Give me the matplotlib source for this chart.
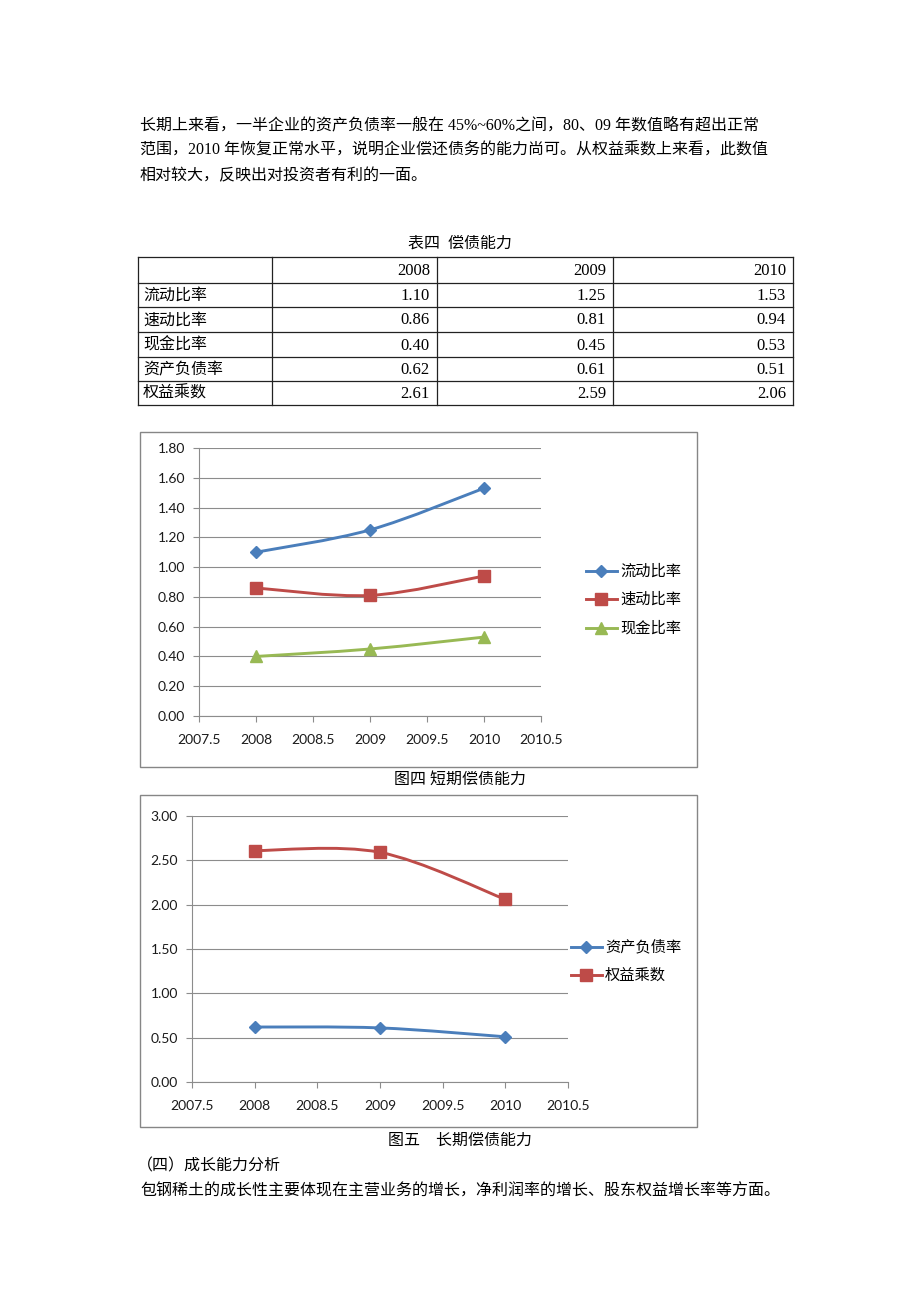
import numpy as np
import matplotlib
matplotlib.use('Agg')
import matplotlib.pyplot as plt
from matplotlib.path import Path
from matplotlib.patches import PathPatch, Rectangle

plt.rcParams['font.family'] = ['Liberation Serif', 'Noto Sans CJK SC']

# ---------------- data ----------------
years = [2008, 2009, 2010]
current_ratio = [1.10, 1.25, 1.53]
quick_ratio = [0.86, 0.81, 0.94]
cash_ratio = [0.40, 0.45, 0.53]
debt_ratio = [0.62, 0.61, 0.51]
equity_multiplier = [2.61, 2.59, 2.06]

row_names = ['流动比率', '速动比率', '现金比率', '资产负债率', '权益乘数']
row_values = [current_ratio, quick_ratio, cash_ratio, debt_ratio, equity_multiplier]
col_names = ['2008', '2009', '2010']

xticks = [2007.5, 2008, 2008.5, 2009, 2009.5, 2010, 2010.5]
xtick_labels = ['2007.5', '2008', '2008.5', '2009', '2009.5', '2010', '2010.5']
yticks1 = [0.0, 0.2, 0.4, 0.6, 0.8, 1.0, 1.2, 1.4, 1.6, 1.8]
yticks2 = [0.0, 0.5, 1.0, 1.5, 2.0, 2.5, 3.0]

para_lines = [
    '长期上来看，一半企业的资产负债率一般在 45%~60%之间，80、09 年数值略有超出正常',
    '范围，2010 年恢复正常水平，说明企业偿还债务的能力尚可。从权益乘数上来看，此数值',
    '相对较大，反映出对投资者有利的一面。',
]
table_title = '表四  偿债能力'
caption1 = '图四 短期偿债能力'
caption2 = '图五　长期偿债能力'
section_title = '（四）成长能力分析'
last_line = '包钢稀土的成长性主要体现在主营业务的增长，净利润率的增长、股东权益增长率等方面。'

BLUE = '#4A7EBB'
RED = '#BE4B48'
GREEN = '#98B954'
GRID = '#8c8c8c'
W, H = 920, 1302

fig = plt.figure(figsize=(W / 100, H / 100), dpi=100)
fig.patch.set_facecolor('white')

# overlay axes in pixel coordinates
oax = fig.add_axes([0, 0, 1, 1])
oax.set_xlim(0, W)
oax.set_ylim(H, 0)
oax.axis('off')

FS = 11.5
NFS = 12
# paragraph
for i, line in enumerate(para_lines):
    oax.text(140, 125 + i * 25.5, line, fontsize=FS, va='center', ha='left')

# table
oax.text(460, 244, table_title, fontsize=FS, va='center', ha='center')
vx = [138, 272, 437, 613, 793]
hy = [257, 283, 307, 332, 357, 381, 405]
for x in vx:
    oax.plot([x, x], [hy[0], hy[-1]], color='#222222', lw=0.9)
for y in hy:
    oax.plot([vx[0], vx[-1]], [y, y], color='#222222', lw=0.9)
for j, c in enumerate(col_names):
    oax.text(vx[j + 2] - 7, (hy[0] + hy[1]) / 2 + 1, c, fontsize=NFS, va='center', ha='right')
for i, (name, vals) in enumerate(zip(row_names, row_values)):
    yc = (hy[i + 1] + hy[i + 2]) / 2 + 1
    oax.text(143, yc, name, fontsize=FS, va='center', ha='left')
    for j, v in enumerate(vals):
        oax.text(vx[j + 2] - 7, yc, f'{v:.2f}', fontsize=NFS, va='center', ha='right')

# chart boxes
oax.add_patch(Rectangle((140, 432), 557, 335, fill=False, edgecolor='#868686', lw=1))
oax.add_patch(Rectangle((140, 795), 557, 332, fill=False, edgecolor='#868686', lw=1))

# captions
oax.text(460, 780, caption1, fontsize=FS, va='center', ha='center')
oax.text(460, 1141, caption2, fontsize=FS, va='center', ha='center')
oax.text(137, 1166, section_title, fontsize=FS, va='center', ha='left')
oax.text(140, 1192, last_line, fontsize=FS, va='center', ha='left')


def smooth_path(xs, ys):
    pts = list(zip(xs, ys))
    n = len(pts)
    verts = [pts[0]]
    codes = [Path.MOVETO]
    for i in range(n - 1):
        p0 = pts[i - 1] if i > 0 else pts[i]
        p1 = pts[i]
        p2 = pts[i + 1]
        p3 = pts[i + 2] if i + 2 < n else pts[i + 1]
        c1 = (p1[0] + (p2[0] - p0[0]) / 6, p1[1] + (p2[1] - p0[1]) / 6)
        c2 = (p2[0] - (p3[0] - p1[0]) / 6, p2[1] - (p3[1] - p1[1]) / 6)
        verts += [c1, c2, p2]
        codes += [Path.CURVE4] * 3
    return Path(verts, codes)


def px_axes(left, right, top, bottom):
    return fig.add_axes([left / W, 1 - bottom / H, (right - left) / W, (bottom - top) / H])


def setup(ax, yt):
    ax.set_facecolor('none')
    ax.set_xlim(2007.5, 2010.5)
    ax.set_ylim(0, yt[-1])
    ax.set_xticks(xticks)
    ax.set_xticklabels(xtick_labels)
    ax.set_yticks(yt)
    ax.set_yticklabels([f'{v:.2f}' for v in yt])
    ax.grid(axis='y', color=GRID, lw=0.8)
    ax.grid(axis='x', visible=False)
    ax.set_axisbelow(True)
    for s in ['top', 'right']:
        ax.spines[s].set_visible(False)
    for s in ['left', 'bottom']:
        ax.spines[s].set_color(GRID)
        ax.spines[s].set_linewidth(0.8)
    ax.tick_params(direction='out', length=4, color=GRID, width=0.8,
                   labelsize=10, labelcolor='#1a1a1a')
    ax.tick_params(axis='x', pad=9)
    ax.tick_params(axis='y', pad=6)
    for lab in ax.get_xticklabels() + ax.get_yticklabels():
        lab.set_fontfamily('Lato')


def series(ax, ys, color, marker, ms):
    ax.add_patch(PathPatch(smooth_path(years, ys), fill=False, edgecolor=color,
                           lw=2.1, capstyle='round', joinstyle='round', zorder=3))
    ax.plot(years, ys, linestyle='none', marker=marker, ms=ms, color=color,
            markeredgecolor=color, zorder=4, clip_on=False)


# chart 1
ax1 = px_axes(199, 541, 448, 716)
setup(ax1, yticks1)
series(ax1, current_ratio, BLUE, 'D', 6)
series(ax1, quick_ratio, RED, 's', 8.5)
series(ax1, cash_ratio, GREEN, '^', 8.5)

# chart 2
ax2 = px_axes(192, 568, 816, 1082)
setup(ax2, yticks2)
series(ax2, debt_ratio, BLUE, 'D', 6)
series(ax2, equity_multiplier, RED, 's', 8.5)

# legends (manual, in pixel coordinates)
def legend_entry(x0, x1, y, color, marker, ms, label):
    oax.plot([x0, x1], [y, y], color=color, lw=2.1)
    oax.plot([(x0 + x1) / 2], [y], marker=marker, ms=ms, color=color, linestyle='none')
    oax.text(x1 + 3, y, label, fontsize=11, va='center', ha='left',
             family=['Noto Sans CJK SC'])

legend_entry(586, 617, 571, BLUE, 'D', 6, '流动比率')
legend_entry(586, 617, 599, RED, 's', 8.5, '速动比率')
legend_entry(586, 617, 628, GREEN, '^', 8.5, '现金比率')
legend_entry(571, 602, 947, BLUE, 'D', 6, '资产负债率')
legend_entry(571, 602, 975, RED, 's', 8.5, '权益乘数')

fig.savefig('out.png', dpi=100)
